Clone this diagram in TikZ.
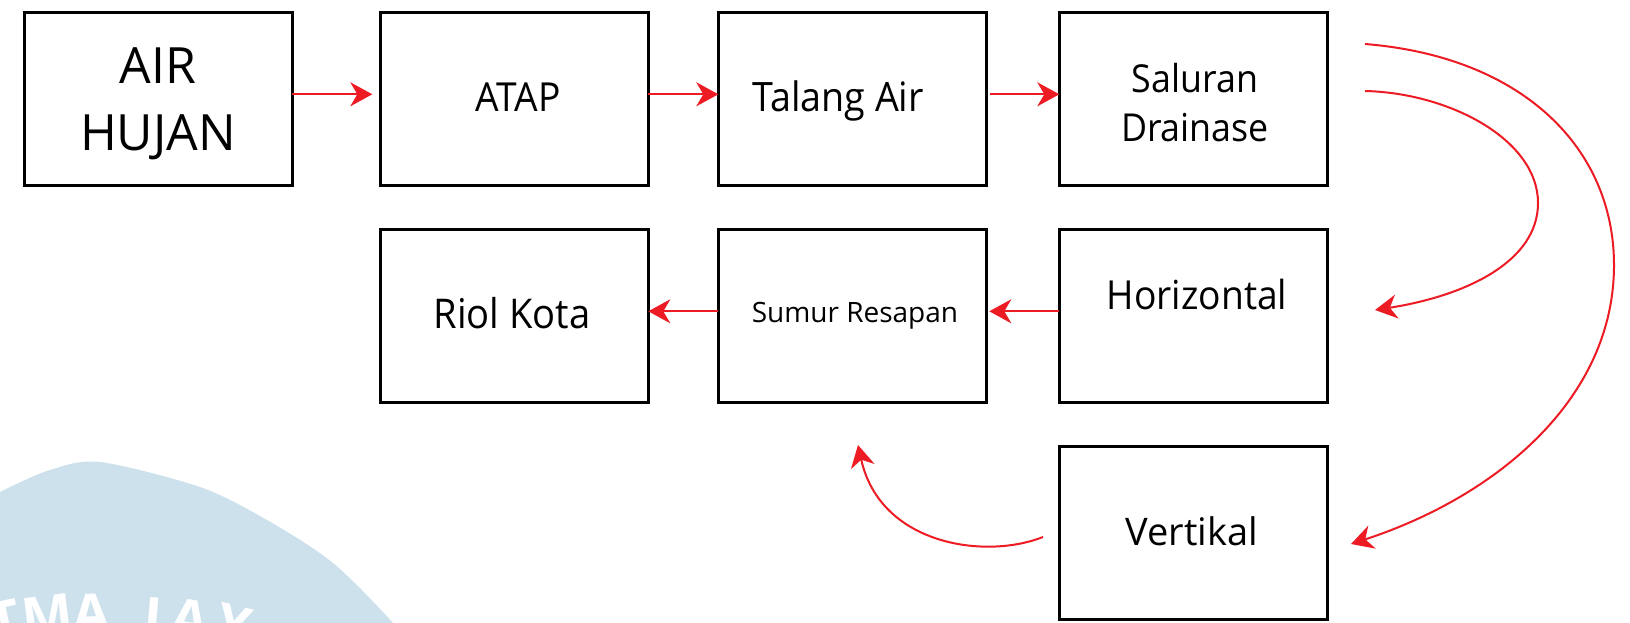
\documentclass[tikz,border=0pt]{standalone}
\usepackage{fontspec}
\setmainfont{Open Sans}
\newfontfamily\narrowfont{Open Sans}[FakeStretch=0.93]
\usetikzlibrary{arrows.meta}
\definecolor{arrred}{HTML}{ED1C24}
\definecolor{wm}{HTML}{CDE1ED}
\begin{document}
\begin{tikzpicture}[x=1pt,y=-1pt,
  box/.style={draw=black, line width=2.6pt, minimum width=268pt, minimum height=173pt, anchor=north west, inner sep=0pt, outer sep=0pt},
  txt/.style={anchor=base, inner sep=0pt, outer sep=0pt},
  wmtxt/.style={anchor=north, inner sep=0pt, text=white, font=\fontsize{54}{54}\selectfont\bfseries},
  flow/.style={draw=arrred, line width=2pt, -{Stealth[length=22pt,width=24pt,inset=7pt]}},
]
\fill[white] (0,0) rectangle (1630,623);
\useasboundingbox (0,0) rectangle (1630,623);

% watermark
\begin{scope}
  \clip (0,0) rectangle (1630,623);
  \fill[wm] plot[smooth] coordinates {(-20,505) (0,492) (50,470) (100,462) (200,487) (267,520) (333,563) (393,623) (420,660)} -- (-20,660) -- cycle;
  \node[wmtxt, rotate=12] (w1) at (1,601) {T};
  \node[wmtxt, rotate=7] (w2) at (45,596) {M};
  \node[wmtxt, rotate=2] (w3) at (91,594) {A};
  \node[wmtxt, rotate=-5] (w4) at (155,598) {J};
  \node[wmtxt, rotate=-9] (w5) at (193,600) {A};
  \node[wmtxt, rotate=-14] (w6) at (238,606) {Y};
\end{scope}

% boxes
\node[box] (air) at (24.3,12.3) {};
\node[box] (atap) at (380.3,12.3) {};
\node[box] (tal) at (718.3,12.3) {};
\node[box] (sal) at (1059.3,12.3) {};
\node[box] (riol) at (380.3,229.3) {};
\node[box] (sum) at (718.3,229.3) {};
\node[box] (hor) at (1059.3,229.3) {};
\node[box] (ver) at (1059.3,446.3) {};

% texts
\node[anchor=north, inner sep=0pt, align=center, font=\fontsize{50}{67}\selectfont] (tair) at (158,47) {AIR\\HUJAN};
\node[txt, font=\fontsize{40}{48}\selectfont\narrowfont] (tatap) at (518,112) {ATAP};
\node[txt, font=\fontsize{40.5}{48}\selectfont\narrowfont] (ttal) at (838,112) {Talang Air};
\node[anchor=north, inner sep=0pt, align=center, font=\fontsize{38.5}{49}\selectfont\narrowfont] (tsal) at (1195,63) {Saluran\\Drainase};
\node[txt, font=\fontsize{40}{48}\selectfont\narrowfont] (thor) at (1197,309) {Horizontal};
\node[txt, font=\fontsize{41}{48}\selectfont\narrowfont] (triol) at (512,328) {Riol Kota};
\node[txt, font=\fontsize{28}{34}\selectfont] (tsum) at (855,322) {Sumur Resapan};
\node[txt, font=\fontsize{38}{46}\selectfont] (tver) at (1192,545) {Vertikal};

% straight arrows
\draw[flow] ([yshift=4.5pt]air.east) -- ([yshift=4.5pt,xshift=-8pt]atap.west);
\draw[flow] ([yshift=4.5pt]atap.east) -- ([yshift=4.5pt]tal.west);
\draw[flow] ([yshift=4.5pt,xshift=4pt]tal.east) -- ([yshift=4.5pt]sal.west);
\draw[flow] ([yshift=4.5pt]hor.west) -- ([yshift=4.5pt,xshift=3pt]sum.east);
\draw[flow] ([yshift=4.5pt]sum.west) -- ([yshift=4.5pt]riol.east);

% curved arrows
\coordinate (c1s) at (1365,91);
\coordinate (c1e) at (1375,310);
\coordinate (c2s) at (1365,44);
\coordinate (c2e) at (1351,544);
\coordinate (c3s) at (1043,537);
\coordinate (c3e) at (858,445);
\draw[flow] (c1s) .. controls (1450,93) and (1538,140) .. (1538,203) .. controls (1538,262) and (1465,296) .. (c1e);
\draw[flow] (c2s) .. controls (1525,57) and (1614,150) .. (1614,265) .. controls (1614,400) and (1495,497) .. (c2e);
\draw[flow] (c3s) .. controls (985,560) and (880,545) .. (c3e);
\end{tikzpicture}
\end{document}
